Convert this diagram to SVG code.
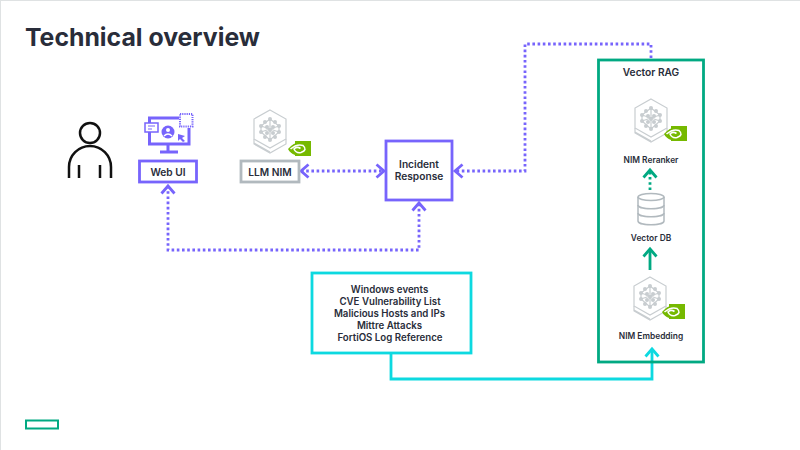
<svg xmlns="http://www.w3.org/2000/svg" width="800" height="450" viewBox="0 0 800 450">
<style>
text{font-family:Inter,"Liberation Sans",sans-serif;fill:#292d3a;text-anchor:middle;font-weight:600}
.t{font-size:9.7px}
.h{font-size:10.200px}
.s{font-size:8.400px}
.box{fill:#fff;stroke-width:2.800}
.p{stroke:#7764fc}
.ln{fill:none;stroke-width:2.800}
.dot{stroke-dasharray:2.600 2.600}
.ic{fill:none;stroke:#c8cdd0;stroke-width:1.200}
</style>
<defs>
<marker id="ap" markerUnits="userSpaceOnUse" markerWidth="16" markerHeight="16" refX="11" refY="8" orient="auto-start-reverse"><path d="M3.500 1.500L11 8L3.500 14.500" fill="none" stroke="#7764fc" stroke-width="2.800"/></marker>
<marker id="ag" markerUnits="userSpaceOnUse" markerWidth="16" markerHeight="16" refX="11" refY="8" orient="auto"><path d="M3.500 1.500L11 8L3.500 14.500" fill="none" stroke="#01a982" stroke-width="2.800"/></marker>
<marker id="ac" markerUnits="userSpaceOnUse" markerWidth="16" markerHeight="16" refX="11" refY="8" orient="auto"><path d="M3.500 1.500L11 8L3.500 14.500" fill="none" stroke="#0dd9e0" stroke-width="2.800"/></marker>
<g id="hex">
<path class="ic" d="M16 0L32 9V29L16 38L0 29V9Z"/>
<path class="ic" d="M0 29V34L16 43L32 34V29M0 33L16 42"/>
<path class="ic" d="M16 9L7 16V22L16 30L25 22V16ZM16 9V30M7 16L25 22M25 16L7 22"/>
<g fill="#c8cdd0"><circle cx="16" cy="9" r="2"/><circle cx="11" cy="12" r="2"/><circle cx="21" cy="12" r="2"/><circle cx="7" cy="16" r="2"/><circle cx="25" cy="16" r="2"/><circle cx="13" cy="17" r="2"/><circle cx="19" cy="17" r="2"/><circle cx="16" cy="20" r="2"/><circle cx="7" cy="22" r="2"/><circle cx="25" cy="22" r="2"/><circle cx="13" cy="23" r="2"/><circle cx="19" cy="23" r="2"/><circle cx="11" cy="27" r="2"/><circle cx="21" cy="27" r="2"/><circle cx="16" cy="30" r="2"/></g>
</g>
<g id="badge">
<rect x="7" y="0" width="16" height="15" fill="#76b900"/>
<path d="M0 8Q7 0 15 2Q22 5 23 8Q15 16 7 14Q2 12 0 8Z" fill="#76b900"/>
<path d="M2.500 8Q9 2.500 15 4.500Q20 9 13 11.500Q8 12.500 6 8Q9 5 12.500 7.500" fill="none" stroke="#fff" stroke-width="1.600"/>
</g>
</defs>
<rect x="0.500" y="0.500" width="800" height="450" fill="#fff" stroke="#dfe2e3"/>
<text id="title" x="25" y="46" style="text-anchor:start;font-size:24.800px;font-weight:700">Technical overview</text>
<g id="connectors">
<path class="ln p dot" d="M168 186V250H419V203" marker-start="url(#ap)" marker-end="url(#ap)"/>
<path class="ln p dot" d="M301 171H384" marker-start="url(#ap)" marker-end="url(#ap)"/>
<path class="ln p dot" d="M651 58V44H525V171H455" marker-end="url(#ap)"/>
<path class="ln dot" d="M650 190V170" stroke="#01a982" marker-end="url(#ag)"/>
<path class="ln" d="M650 270V249" stroke="#01a982" marker-end="url(#ag)"/>
<path class="ln" d="M391 353V379H652V349" stroke="#0dd9e0" marker-end="url(#ac)"/>
</g>
<g id="user" fill="none" stroke="#111" stroke-width="2.500">
<circle cx="90" cy="133" r="10"/>
<path d="M69 178V167A21 21 0 0 1 111 167V178M79 165V178M100 165V178"/>
</g>
<g id="web-ui">
<path d="M179 118H149.500V144H189V128" fill="none" stroke="#7764fc" stroke-width="3"/>
<path d="M168 145V151M160 152H178" stroke="#7764fc" stroke-width="3"/>
<rect x="145" y="123" width="13" height="9" fill="#fff" stroke="#7764fc" stroke-width="1.500"/>
<path d="M148 126H155M148 129H152" stroke="#7764fc"/>
<circle cx="168" cy="132" r="6.500" fill="#7764fc"/>
<circle cx="168" cy="130" r="2" fill="#fff"/>
<path d="M164 136Q168 132 172 136" stroke="#fff" stroke-width="1.500" fill="none"/>
<path d="M178 134L185 136L182 138L185 141L183 142L180 139L178 141Z" fill="#7764fc"/>
<rect x="180" y="114" width="12.500" height="12.500" fill="none" stroke="#7764fc" stroke-width="2" stroke-dasharray="1.200 1"/>
<rect class="box p" x="139.500" y="161" width="57" height="21"/>
<text class="h" x="168" y="175.500">Web UI</text>
</g>
<g id="llm-nim">
<use href="#hex" x="254" y="110"/>
<use href="#badge" x="288" y="141"/>
<rect class="box" x="241" y="161" width="58" height="21" stroke="#b1b9be"/>
<text class="h" x="270" y="175.500">LLM NIM</text>
</g>
<g id="incident-response">
<rect class="box p" x="386" y="141" width="66" height="59"/>
<text class="h" x="419" y="168">Incident</text>
<text class="h" x="419" y="180">Response</text>
</g>
<g id="vector-rag">
<rect x="598.500" y="60" width="105" height="302" fill="none" stroke="#01a982" stroke-width="2.800"/>
<text class="h" x="651" y="76">Vector RAG</text>
</g>
<g id="nim-reranker">
<use href="#hex" x="635" y="99"/>
<use href="#badge" x="664" y="126"/>
<text class="s" x="651" y="163">NIM Reranker</text>
</g>
<g id="vector-db">
<g fill="none" stroke="#b1b9be" stroke-width="1.500">
<path d="M638 197V221C638 226 664 226 664 221V197"/>
<ellipse cx="651" cy="197" rx="13" ry="3.500"/>
<path d="M638 205C638 210 664 210 664 205M638 213C638 218 664 218 664 213"/>
</g>
<text class="s" x="651" y="241">Vector DB</text>
</g>
<g id="nim-embedding">
<use href="#hex" x="634" y="277"/>
<use href="#badge" x="662" y="304"/>
<text class="s" x="651" y="339">NIM Embedding</text>
</g>
<g id="data-sources">
<rect class="box" x="312" y="273" width="159" height="80" stroke="#0dd9e0"/>
<text class="t" x="389.500" y="293">Windows events</text>
<text class="t" x="390" y="305">CVE Vulnerability List</text>
<text class="t" x="389.500" y="317">Malicious Hosts and IPs</text>
<text class="t" x="389.500" y="329">Mittre Attacks</text>
<text class="t" x="390" y="341">FortiOS Log Reference</text>
</g>
<rect id="logo" x="26" y="420.500" width="32" height="8" fill="none" stroke="#01a982" stroke-width="2"/>
</svg>
